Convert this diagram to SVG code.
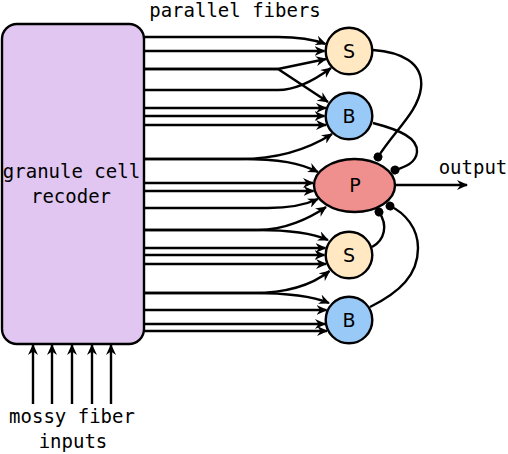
<svg xmlns="http://www.w3.org/2000/svg" width="508" height="454" viewBox="0 0 508 454">
<style>
.t{font-family:"DejaVu Sans Mono","Liberation Mono",monospace;font-size:19px;fill:#000}
.n{font-family:"DejaVu Sans","Liberation Sans",sans-serif;font-size:19px;fill:#000;text-anchor:middle}
.e{fill:none;stroke:#000;stroke-width:2.4;marker-end:url(#arr)}
.i{fill:none;stroke:#000;stroke-width:2.4;marker-end:url(#dot)}
.nd{stroke:#000;stroke-width:2.4}
</style>
<defs>
<marker id="arr" viewBox="0 0 11 10" markerWidth="11" markerHeight="10" refX="10" refY="5" orient="auto" markerUnits="userSpaceOnUse">
<path d="M0,0 L11,5 L0,10 L3.5,5 Z" fill="#000"/>
</marker>
<marker id="dot" viewBox="0 0 9 9" markerWidth="9" markerHeight="9" refX="4.5" refY="4.5" orient="auto" markerUnits="userSpaceOnUse">
<circle cx="4.5" cy="4.5" r="4.5" fill="#000"/>
</marker>
</defs>
<rect width="508" height="454" fill="#fff"/>

<g id="connectors">
<path class="e" d="M145,37 H278 C300,37 315,40 325.5,44"/>
<path class="e" d="M145,51 H324.5"/>
<path class="e" d="M145,69 H278 L326,59"/>
<path class="e" d="M145,69 H278 L328,102"/>
<path class="e" d="M145,90 H278 C295,90 312,82 331,68"/>
<path class="e" d="M145,108 H326"/>
<path class="e" d="M145,116 H324.5"/>
<path class="e" d="M145,125 H326"/>
<path class="e" d="M145,159 H240 C280,159 310,148 332,134"/>
<path class="e" d="M145,159 H240 C280,159 300,163 318,172"/>
<path class="e" d="M145,183 H313"/>
<path class="e" d="M145,191 H313.5"/>
<path class="e" d="M145,208 H268 C290,208 305,205 318,199"/>
<path class="e" d="M145,230 H258 C285,230 310,218 326,207"/>
<path class="e" d="M145,230 H258 C290,230 312,233 328,240"/>
<path class="e" d="M145,248 H325.5"/>
<path class="e" d="M145,255 H324.5"/>
<path class="e" d="M145,264 H326"/>
<path class="e" d="M145,293 H253 C285,293 312,285 329.5,271"/>
<path class="e" d="M145,293 H253 C285,293 312,296 329,303"/>
<path class="e" d="M145,310 H326.5"/>
<path class="e" d="M145,324 H325"/>
<path class="e" d="M145,331 H327"/>
<path class="i" d="M373,50 C400,52 424,62 421,88 C418,112 395,130 378,157"/>
<path class="i" d="M373,123 C400,130 418,138 417,152 C416,163 405,167 395,170"/>
<path class="i" d="M372,247 C385,240 388,225 379,212"/>
<path class="i" d="M370,307 C400,292 418,275 418,248 C418,228 405,213 390,206"/>
<path class="e" d="M396,185 H467"/>
<path class="e" d="M33,404 V345"/>
<path class="e" d="M52,404 V345"/>
<path class="e" d="M72,404 V345"/>
<path class="e" d="M92,404 V345"/>
<path class="e" d="M111,404 V345"/>
</g>

<g id="granule">
<rect class="nd" x="2" y="24" width="142" height="320" rx="15" ry="15" fill="#e0c6f1"/>
<text class="t" x="71.5" y="178" text-anchor="middle">granule cell</text>
<text class="t" x="71" y="203" text-anchor="middle">recoder</text>
</g>

<g id="S1">
<circle class="nd" cx="349" cy="51" r="23.3" fill="#ffe8c2"/>
<text class="n" x="349" y="58">S</text>
</g>
<g id="B1">
<circle class="nd" cx="349" cy="116" r="23.3" fill="#99c9f7"/>
<text class="n" x="349" y="123">B</text>
</g>
<g id="P">
<ellipse class="nd" cx="354.5" cy="185.5" rx="40.5" ry="26.5" fill="#f0908e"/>
<text class="n" x="355" y="192">P</text>
</g>
<g id="S2">
<circle class="nd" cx="349" cy="255" r="23.3" fill="#ffe8c2"/>
<text class="n" x="349" y="262">S</text>
</g>
<g id="B2">
<circle class="nd" cx="349" cy="320" r="23.3" fill="#99c9f7"/>
<text class="n" x="349" y="327">B</text>
</g>

<g id="labels">
<text class="t" x="235" y="17" text-anchor="middle">parallel fibers</text>
<text class="t" x="473" y="174" text-anchor="middle">output</text>
<text class="t" x="72" y="423" text-anchor="middle">mossy fiber</text>
<text class="t" x="73" y="448" text-anchor="middle">inputs</text>
</g>
</svg>
